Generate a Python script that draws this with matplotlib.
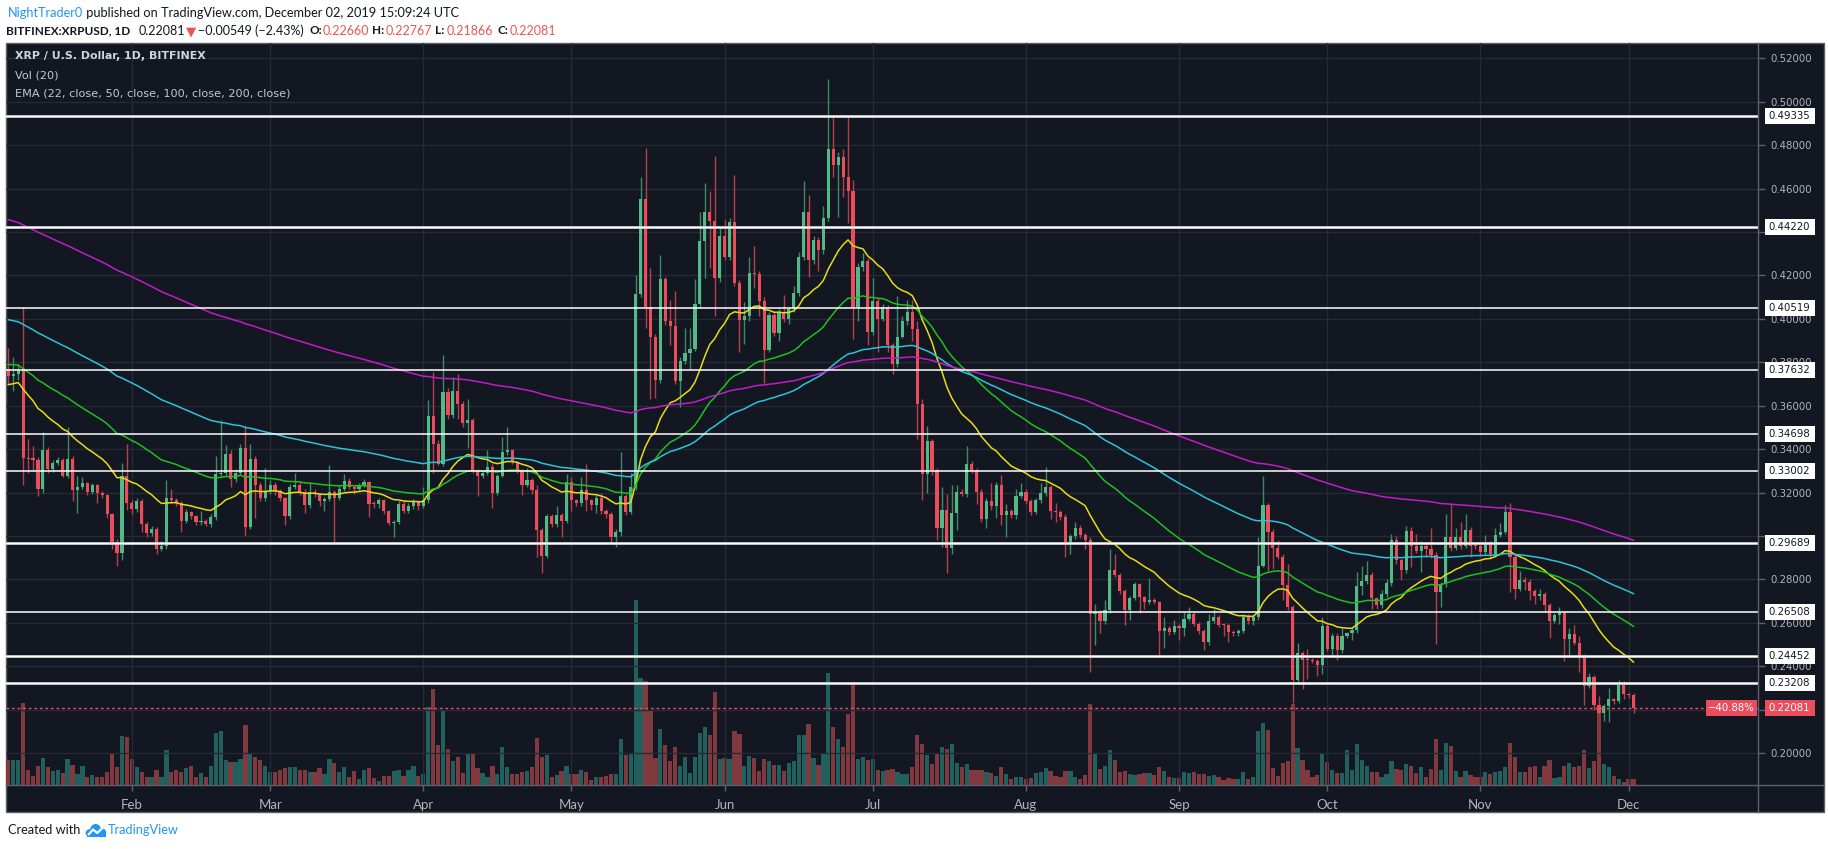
import datetime as dt
import numpy as np
import matplotlib
matplotlib.use("Agg")
import matplotlib.pyplot as plt
from matplotlib.patches import Rectangle, Ellipse
from matplotlib.lines import Line2D
from matplotlib.transforms import blended_transform_factory

# ---- values: BITFINEX XRP/USD, daily bars from 7 Jan 2019 ----
start_day = dt.date(2019, 1, 7)
first_open = 0.3768

closes = [
    0.3735, 0.3746, 0.3763, 0.3359, 0.3354, 0.3352, 0.3215, 0.3398, 0.3310, 0.3337,
    0.3348, 0.3277, 0.3356, 0.3211, 0.3226, 0.3242, 0.3204, 0.3233, 0.3197, 0.3188,
    0.3100, 0.2972, 0.2923, 0.3277, 0.3153, 0.3122, 0.3160, 0.3056, 0.3012, 0.3034,
    0.2939, 0.2954, 0.3175, 0.3166, 0.3153, 0.3071, 0.3109, 0.3091, 0.3065, 0.3071,
    0.3056, 0.3087, 0.3286, 0.3292, 0.3379, 0.3264, 0.3292, 0.3407, 0.3043, 0.3356,
    0.3237, 0.3175, 0.3206, 0.3237, 0.3206, 0.3175, 0.3091, 0.3226, 0.3237, 0.3204,
    0.3144, 0.3204, 0.3193, 0.3160, 0.3171, 0.3204, 0.3175, 0.3215, 0.3255, 0.3226,
    0.3215, 0.3233, 0.3248, 0.3149, 0.3147, 0.3164, 0.3115, 0.3060, 0.3065, 0.3149,
    0.3115, 0.3137, 0.3160, 0.3137, 0.3166, 0.3553, 0.3425, 0.3330, 0.3664, 0.3557,
    0.3668, 0.3609, 0.3518, 0.3535, 0.3303, 0.3277, 0.3292, 0.3319, 0.3197, 0.3277,
    0.3387, 0.3396, 0.3341, 0.3303, 0.3237, 0.3259, 0.3211, 0.3027, 0.2910, 0.3093,
    0.3056, 0.3098, 0.3071, 0.3248, 0.3166, 0.3153, 0.3211, 0.3166, 0.3142, 0.3175,
    0.3115, 0.3100, 0.2994, 0.3016, 0.3186, 0.3109, 0.3226, 0.4115, 0.4552, 0.4055,
    0.3918, 0.3719, 0.4183, 0.3989, 0.3967, 0.3712, 0.3805, 0.3841, 0.3863, 0.4069,
    0.4360, 0.4493, 0.4449, 0.4188, 0.4380, 0.4287, 0.4446, 0.4165, 0.3993, 0.4011,
    0.4210, 0.4205, 0.4084, 0.3856, 0.4017, 0.3933, 0.4033, 0.3999, 0.4044, 0.4121,
    0.4287, 0.4493, 0.4272, 0.4364, 0.4316, 0.4464, 0.4784, 0.4707, 0.4745, 0.4652,
    0.4590, 0.4055, 0.4238, 0.4265, 0.3940, 0.4081, 0.3999, 0.4055, 0.3878, 0.3794,
    0.3918, 0.3989, 0.4033, 0.3951, 0.3609, 0.3286, 0.3436, 0.3303, 0.3038, 0.3120,
    0.2943, 0.3104, 0.3204, 0.3193, 0.3330, 0.3303, 0.3204, 0.3076, 0.3160, 0.3137,
    0.3237, 0.3098, 0.3115, 0.3098, 0.3186, 0.3204, 0.3160, 0.3109, 0.3164, 0.3197,
    0.3226, 0.3115, 0.3111, 0.3089, 0.2972, 0.2999, 0.3038, 0.3005, 0.2983, 0.2640,
    0.2651, 0.2607, 0.2658, 0.2844, 0.2822, 0.2746, 0.2658, 0.2716, 0.2777, 0.2718,
    0.2696, 0.2707, 0.2694, 0.2563, 0.2578, 0.2558, 0.2585, 0.2574, 0.2618, 0.2640,
    0.2596, 0.2563, 0.2512, 0.2607, 0.2629, 0.2591, 0.2589, 0.2556, 0.2552, 0.2563,
    0.2629, 0.2607, 0.2625, 0.2861, 0.3144, 0.3020, 0.2943, 0.2905, 0.2773, 0.2673,
    0.2335, 0.2463, 0.2430, 0.2428, 0.2426, 0.2408, 0.2585, 0.2481, 0.2541, 0.2474,
    0.2541, 0.2552, 0.2567, 0.2769, 0.2791, 0.2822, 0.2714, 0.2681, 0.2734, 0.2784,
    0.2983, 0.2888, 0.2844, 0.3023, 0.2954, 0.2932, 0.2954, 0.2939, 0.2912, 0.2740,
    0.2777, 0.2994, 0.2945, 0.2994, 0.2954, 0.3027, 0.2954, 0.2952, 0.2925, 0.2965,
    0.2915, 0.3004, 0.3020, 0.3109, 0.2905, 0.2755, 0.2799, 0.2790, 0.2746, 0.2724,
    0.2733, 0.2684, 0.2607, 0.2636, 0.2645, 0.2525, 0.2547, 0.2507, 0.2446, 0.2308,
    0.2352, 0.2220, 0.2187, 0.2216, 0.2247, 0.2238, 0.2313, 0.2270, 0.2266, 0.22081,
]

highs = [
    0.3867, 0.3823, 0.3790, 0.4055, 0.3447, 0.3414, 0.3362, 0.3480, 0.3410, 0.3350,
    0.3365, 0.3360, 0.3502, 0.3370, 0.3277, 0.3270, 0.3250, 0.3245, 0.3240, 0.3205,
    0.3195, 0.3105, 0.2985, 0.3337, 0.3425, 0.3165, 0.3175, 0.3170, 0.3065, 0.3045,
    0.3040, 0.2975, 0.3259, 0.3215, 0.3175, 0.3160, 0.3125, 0.3115, 0.3095, 0.3116,
    0.3080, 0.3100, 0.3370, 0.3536, 0.3418, 0.3395, 0.3310, 0.3425, 0.3513, 0.3425,
    0.3370, 0.3250, 0.3315, 0.3260, 0.3250, 0.3215, 0.3180, 0.3240, 0.3292, 0.3250,
    0.3215, 0.3248, 0.3215, 0.3200, 0.3180, 0.3326, 0.3210, 0.3230, 0.3285, 0.3265,
    0.3235, 0.3245, 0.3264, 0.3255, 0.3160, 0.3175, 0.3170, 0.3120, 0.3075, 0.3160,
    0.3160, 0.3150, 0.3170, 0.3165, 0.3226, 0.3624, 0.3757, 0.3440, 0.3834, 0.3680,
    0.3734, 0.3746, 0.3620, 0.3631, 0.3545, 0.3310, 0.3300, 0.3396, 0.3330, 0.3285,
    0.3454, 0.3502, 0.3400, 0.3345, 0.3310, 0.3315, 0.3265, 0.3233, 0.3035, 0.3100,
    0.3100, 0.3138, 0.3105, 0.3286, 0.3270, 0.3170, 0.3270, 0.3330, 0.3170, 0.3190,
    0.3200, 0.3125, 0.3110, 0.3030, 0.3385, 0.3195, 0.3292, 0.4203, 0.4652, 0.4789,
    0.4232, 0.3930, 0.4294, 0.4195, 0.4088, 0.4128, 0.3825, 0.3956, 0.3956, 0.4183,
    0.4493, 0.4625, 0.4590, 0.4751, 0.4420, 0.4453, 0.4464, 0.4663, 0.4180, 0.4077,
    0.4283, 0.4336, 0.4220, 0.4100, 0.4030, 0.4033, 0.4045, 0.4110, 0.4055, 0.4150,
    0.4309, 0.4636, 0.4572, 0.4380, 0.4375, 0.4519, 0.5105, 0.4939, 0.4767, 0.4780,
    0.4939, 0.4641, 0.4255, 0.4303, 0.4280, 0.4188, 0.4095, 0.4070, 0.4066, 0.3890,
    0.4106, 0.4011, 0.4088, 0.4088, 0.3989, 0.3631, 0.3507, 0.3447, 0.3315, 0.3226,
    0.3193, 0.3237, 0.3233, 0.3215, 0.3414, 0.3345, 0.3315, 0.3215, 0.3175, 0.3242,
    0.3250, 0.3281, 0.3149, 0.3125, 0.3215, 0.3242, 0.3215, 0.3170, 0.3175, 0.3242,
    0.3319, 0.3235, 0.3153, 0.3120, 0.3100, 0.3010, 0.3065, 0.3050, 0.3015, 0.2995,
    0.2685, 0.2660, 0.2707, 0.2939, 0.2917, 0.2830, 0.2755, 0.2725, 0.2788, 0.2785,
    0.2725, 0.2806, 0.2715, 0.2700, 0.2629, 0.2585, 0.2614, 0.2595, 0.2651, 0.2673,
    0.2650, 0.2605, 0.2570, 0.2640, 0.2662, 0.2635, 0.2600, 0.2595, 0.2565, 0.2570,
    0.2640, 0.2640, 0.2635, 0.2994, 0.3277, 0.3150, 0.3030, 0.2983, 0.2915, 0.2872,
    0.2680, 0.2506, 0.2470, 0.2479, 0.2440, 0.2435, 0.2629, 0.2595, 0.2555, 0.2555,
    0.2574, 0.2560, 0.2580, 0.2835, 0.2861, 0.2884, 0.2835, 0.2720, 0.2751, 0.2800,
    0.3010, 0.3000, 0.2895, 0.3045, 0.3040, 0.3010, 0.2977, 0.2965, 0.3038, 0.2925,
    0.2790, 0.3100, 0.3153, 0.3038, 0.3065, 0.3100, 0.3040, 0.2965, 0.2965, 0.3005,
    0.2975, 0.3038, 0.3060, 0.3144, 0.3153, 0.2915, 0.2839, 0.2810, 0.2800, 0.2755,
    0.2755, 0.2740, 0.2690, 0.2645, 0.2673, 0.2655, 0.2578, 0.2592, 0.2541, 0.2455,
    0.2371, 0.2360, 0.2262, 0.2225, 0.2302, 0.2255, 0.2337, 0.2331, 0.2275, 0.22767,
]

lows = [
    0.3700, 0.3668, 0.3720, 0.3237, 0.3292, 0.3303, 0.3182, 0.3200, 0.3292, 0.3295,
    0.3325, 0.3270, 0.3265, 0.3160, 0.3104, 0.3215, 0.3190, 0.3195, 0.3150, 0.3175,
    0.3085, 0.2940, 0.2861, 0.2890, 0.3120, 0.3100, 0.3110, 0.3016, 0.2994, 0.3000,
    0.2917, 0.2930, 0.2940, 0.3150, 0.3140, 0.3016, 0.3060, 0.3080, 0.3050, 0.3049,
    0.3045, 0.3040, 0.3075, 0.3270, 0.3280, 0.3226, 0.3250, 0.3280, 0.2999, 0.3030,
    0.3082, 0.3160, 0.3160, 0.3195, 0.3190, 0.3160, 0.3049, 0.3080, 0.3215, 0.3190,
    0.3104, 0.3130, 0.3180, 0.3140, 0.3116, 0.3160, 0.2961, 0.3165, 0.3205, 0.3215,
    0.3195, 0.3205, 0.3225, 0.3087, 0.3130, 0.3130, 0.3100, 0.3049, 0.2994, 0.3055,
    0.3104, 0.3105, 0.3125, 0.3120, 0.3130, 0.3150, 0.3292, 0.3325, 0.3320, 0.3540,
    0.3545, 0.3540, 0.3500, 0.3403, 0.3290, 0.3186, 0.3265, 0.3280, 0.3127, 0.3190,
    0.3270, 0.3375, 0.3330, 0.3290, 0.3189, 0.3225, 0.3195, 0.2905, 0.2828, 0.2900,
    0.3040, 0.3040, 0.2994, 0.3060, 0.3116, 0.3140, 0.3140, 0.3116, 0.3120, 0.3104,
    0.3100, 0.3085, 0.2961, 0.2950, 0.3000, 0.3095, 0.3100, 0.3210, 0.4100, 0.3956,
    0.3630, 0.3635, 0.3706, 0.3970, 0.3878, 0.3701, 0.3595, 0.3790, 0.3768, 0.3850,
    0.4050, 0.4188, 0.4236, 0.4011, 0.4170, 0.4270, 0.4270, 0.4150, 0.3845, 0.3885,
    0.3990, 0.4143, 0.4011, 0.3706, 0.3845, 0.3922, 0.3900, 0.3985, 0.3978, 0.4030,
    0.4105, 0.4270, 0.4194, 0.4254, 0.4221, 0.4300, 0.4450, 0.4652, 0.4471, 0.4563,
    0.4442, 0.3905, 0.3989, 0.4220, 0.3878, 0.3925, 0.3845, 0.3989, 0.3845, 0.3746,
    0.3780, 0.3911, 0.3971, 0.3900, 0.3447, 0.3164, 0.3197, 0.3281, 0.2983, 0.2950,
    0.2828, 0.2917, 0.3027, 0.3182, 0.3180, 0.3290, 0.3149, 0.3065, 0.3038, 0.3120,
    0.3082, 0.3049, 0.2994, 0.3085, 0.3080, 0.3175, 0.3145, 0.3095, 0.3100, 0.3150,
    0.3185, 0.3076, 0.3065, 0.3075, 0.2905, 0.2917, 0.2985, 0.2990, 0.2939, 0.2375,
    0.2497, 0.2552, 0.2595, 0.2645, 0.2810, 0.2735, 0.2592, 0.2614, 0.2705, 0.2647,
    0.2662, 0.2685, 0.2685, 0.2452, 0.2486, 0.2545, 0.2550, 0.2519, 0.2541, 0.2610,
    0.2585, 0.2550, 0.2475, 0.2500, 0.2600, 0.2580, 0.2541, 0.2512, 0.2540, 0.2540,
    0.2555, 0.2595, 0.2590, 0.2615, 0.2855, 0.2839, 0.2850, 0.2895, 0.2707, 0.2660,
    0.2231, 0.2320, 0.2293, 0.2342, 0.2415, 0.2353, 0.2364, 0.2470, 0.2441, 0.2430,
    0.2460, 0.2530, 0.2519, 0.2555, 0.2729, 0.2780, 0.2662, 0.2665, 0.2670, 0.2720,
    0.2770, 0.2870, 0.2799, 0.2830, 0.2857, 0.2920, 0.2835, 0.2905, 0.2900, 0.2503,
    0.2673, 0.2765, 0.2930, 0.2935, 0.2940, 0.2945, 0.2901, 0.2940, 0.2910, 0.2915,
    0.2900, 0.2905, 0.2995, 0.3010, 0.2740, 0.2711, 0.2745, 0.2751, 0.2707, 0.2685,
    0.2707, 0.2651, 0.2530, 0.2601, 0.2596, 0.2424, 0.2441, 0.2497, 0.2375, 0.2220,
    0.2300, 0.2200, 0.2180, 0.2150, 0.2143, 0.2225, 0.2230, 0.2247, 0.2255, 0.21866,
]

# volume in relative units (bar heights)
volume = [
    52, 52, 52, 170, 32, 19, 40, 56, 37, 30,
    32, 24, 54, 41, 22, 39, 17, 20, 17, 17,
    27, 64, 37, 102, 99, 54, 37, 27, 17, 17,
    32, 17, 72, 27, 32, 27, 35, 40, 17, 25,
    17, 40, 109, 112, 52, 47, 47, 54, 125, 64,
    59, 52, 39, 27, 27, 32, 35, 37, 37, 32,
    32, 27, 27, 35, 22, 54, 45, 27, 37, 17,
    29, 12, 32, 35, 14, 9, 19, 19, 29, 32,
    19, 32, 39, 19, 22, 162, 200, 84, 157, 75,
    49, 59, 25, 67, 65, 35, 25, 17, 39, 22,
    80, 37, 22, 22, 27, 29, 37, 97, 59, 62,
    17, 20, 29, 40, 22, 22, 32, 27, 10, 17,
    17, 18, 22, 22, 95, 62, 64, 385, 224, 217,
    157, 57, 117, 84, 49, 79, 39, 59, 25, 59,
    109, 120, 104, 194, 55, 57, 55, 112, 107, 39,
    60, 57, 29, 55, 49, 42, 42, 29, 45, 50,
    105, 105, 127, 57, 42, 65, 234, 120, 95, 80,
    147, 210, 55, 59, 52, 55, 32, 30, 32, 34,
    27, 23, 23, 37, 104, 85, 62, 44, 65, 80,
    75, 85, 45, 37, 44, 32, 32, 32, 27, 24,
    19, 37, 22, 12, 17, 17, 12, 14, 25, 27,
    35, 30, 19, 17, 30, 29, 17, 12, 20, 169,
    67, 34, 40, 72, 52, 27, 29, 22, 20, 22,
    25, 25, 20, 37, 30, 17, 15, 15, 27, 24,
    27, 22, 22, 19, 20, 17, 10, 14, 12, 12,
    27, 12, 17, 112, 129, 114, 35, 19, 45, 50,
    169, 77, 52, 32, 17, 20, 65, 47, 32, 25,
    25, 72, 32, 85, 52, 39, 27, 27, 17, 22,
    49, 34, 32, 44, 39, 25, 37, 17, 34, 95,
    32, 87, 82, 30, 17, 30, 20, 17, 17, 27,
    22, 27, 30, 37, 87, 59, 27, 27, 37, 39,
    17, 39, 52, 14, 17, 40, 45, 37, 39, 72,
    35, 49, 167, 44, 37, 19, 12, 7, 12, 12,
]

levels = [0.49335, 0.44220, 0.40519, 0.37632, 0.34698,
          0.33002, 0.29689, 0.26508, 0.24452, 0.23208]
thick_levels = [0.49335, 0.44220, 0.29689, 0.24452, 0.23208]

ema_lengths = [22, 50, 100, 200]
ema_first = [0.3697, 0.3790, 0.3996, 0.4457]   # EMA values on the first visible bar
ema_colors = ["#e6dc14", "#1fbf1f", "#2cc3d8", "#c21bc8"]

price_ticks = [0.20, 0.22, 0.24, 0.26, 0.28, 0.30, 0.32, 0.34, 0.36,
               0.38, 0.40, 0.42, 0.44, 0.46, 0.48, 0.50, 0.52]
hidden_ticks = [0.22, 0.30, 0.44]   # labels covered by the level tags
month_names = ["Feb", "Mar", "Apr", "May", "Jun", "Jul", "Aug",
               "Sep", "Oct", "Nov", "Dec"]
last_price = 0.22081
pct_text = "\u221240.88%"

# ---- style ----
W, H = 1828, 849
BG = "#131722"
GRID = "#262a35"
FRAME = "#5d606b"
UP, DN = "#53b987", "#eb4d5c"
UP_WICK, DN_WICK = "#3f8a66", "#b2414e"
VOL_UP, VOL_DN = "#22605d", "#80393f"
AXTXT = "#b2b5be"
HEAD_FONT = ["Lato", "DejaVu Sans"]


def fx(px):
    return px / W


def fy(py):
    return 1 - py / H


def ema(values, length, first):
    a = 2.0 / (length + 1)
    out = [first]
    for v in values[1:]:
        out.append(out[-1] + a * (v - out[-1]))
    return out


n = len(closes)
x = np.arange(n)
opens = [first_open] + closes[:-1]
is_up = [c >= o for o, c in zip(opens, closes)]

fig = plt.figure(figsize=(W / 100, H / 100), dpi=100)
fig.patch.set_facecolor("white")

# dark chart panel (plot area + price scale + time scale)
fig.add_artist(Rectangle((fx(6), fy(812)), fx(1824) - fx(6), (812 - 43) / H,
                         transform=fig.transFigure, facecolor=BG,
                         edgecolor=FRAME, lw=1, zorder=0))

ax = fig.add_axes([fx(6), fy(785), (1758 - 6) / W, (785 - 43) / H])
axv = ax.twinx()
ax.set_zorder(2)
axv.set_zorder(1)
ax.patch.set_visible(False)
axv.patch.set_visible(False)

x_left, x_right = -0.47, 354.2
y_bottom, y_top = 0.18531, 0.52704
ax.set_xlim(x_left, x_right)
ax.set_ylim(y_bottom, y_top)

# volume overlay: tallest bar fills about a quarter of the pane
axv.bar(x, volume, width=0.86, color=[VOL_UP if u else VOL_DN for u in is_up],
        linewidth=0)
axv.set_ylim(0, max(volume) / 0.249)
axv.yaxis.set_visible(False)
for s in axv.spines.values():
    s.set_visible(False)

# grid and scales
ax.set_yticks(price_ticks)
ax.set_yticklabels(["" if t in hidden_ticks else f"{t:.5f}" for t in price_ticks])
month_idx = [(dt.date(2019, m, 1) - start_day).days for m in range(2, 13)]
ax.set_xticks(month_idx)
ax.set_xticklabels(month_names)
ax.grid(True, color=GRID, lw=1)
ax.set_axisbelow(True)
ax.yaxis.tick_right()
ax.tick_params(axis="y", length=5, width=1, color=FRAME, labelcolor=AXTXT,
               labelsize=7.3, pad=4)
ax.tick_params(axis="x", length=4, width=1, color=FRAME, labelcolor=AXTXT,
               labelsize=9.5, pad=6)
for lab in ax.get_xticklabels():
    lab.set_fontfamily(HEAD_FONT)
for s in ax.spines.values():
    s.set_visible(False)

# candles
ax.vlines(x, lows, highs, colors=[UP_WICK if u else DN_WICK for u in is_up],
          lw=1, zorder=3)
body_lo = np.minimum(opens, closes)
body_h = np.maximum(np.abs(np.array(closes) - np.array(opens)), 0.0005)
ax.bar(x, body_h, bottom=body_lo, width=0.64,
       color=[UP if u else DN for u in is_up], linewidth=0, zorder=3.5)

# EMAs
for length, first, col in zip(ema_lengths, ema_first, ema_colors):
    ax.plot(x, ema(closes, length, first), color=col, lw=1.1, zorder=4)

# horizontal levels
for lv in levels:
    if lv in thick_levels:
        ax.axhline(lv, color="#c9cacd", lw=2.0, zorder=5)
        ax.axhline(lv, color="white", lw=0.9, zorder=5.1)
    else:
        ax.axhline(lv, color="white", lw=1.1, zorder=5)
ax.axhline(last_price, color=DN, lw=1, ls=(0, (2, 2)), zorder=5)

# legend lines in the upper left
fig.text(fx(15), fy(56), "XRP / U.S. Dollar, 1D, BITFINEX", color="#d1d4dc",
         fontsize=7.9, fontweight="bold", va="center", zorder=6)
fig.text(fx(15), fy(75), "Vol (20)", color="#c4c7cf", fontsize=8.1, va="center", zorder=6)
fig.text(fx(15), fy(93.5), "EMA (22, close, 50, close, 100, close, 200, close)",
         color="#c4c7cf", fontsize=8.1, va="center", zorder=6)

# price-scale tags for the levels and the last price
blend = blended_transform_factory(fig.transFigure, ax.transData)
px_per_price = (785 - 43) / (y_top - y_bottom)
box_h = 16 / px_per_price
for lv in levels:
    fig.add_artist(Rectangle((fx(1765), lv - box_h / 2), fx(1815) - fx(1765), box_h,
                             transform=blend, facecolor="white", edgecolor="none",
                             zorder=7))
    fig.text(fx(1768), lv, f"{lv:.5f}", transform=blend, color="#131722",
             fontsize=7.3, ha="left", va="center", zorder=8)
fig.add_artist(Rectangle((fx(1765), last_price - box_h / 2), fx(1815) - fx(1765), box_h,
                         transform=blend, facecolor=DN, edgecolor="none", zorder=7))
fig.text(fx(1768), last_price, f"{last_price:.5f}", transform=blend, color="white",
         fontsize=7.3, ha="left", va="center", zorder=8)
fig.add_artist(Rectangle((fx(1706), last_price - box_h / 2), fx(1757) - fx(1706), box_h,
                         transform=blend, facecolor=DN, edgecolor="none", zorder=7))
fig.text(fx(1731.5), last_price, pct_text, transform=blend, color="white",
         fontsize=7.3, ha="center", va="center", zorder=8)

# separators between plot area and scales
fig.add_artist(Line2D([fx(1758), fx(1758)], [fy(43), fy(812)], transform=fig.transFigure,
                      color=FRAME, lw=1, zorder=9))
fig.add_artist(Line2D([fx(6), fx(1824)], [fy(785), fy(785)], transform=fig.transFigure,
                      color=FRAME, lw=1, zorder=9))

# header and footer text
renderer = fig.canvas.get_renderer()
BLUE = "#2196f3"
RED = "#ef5350"
BLK = "#131722"


def text_run(x_px, y_px, parts, size):
    xp = x_px
    for s, col, weight in parts:
        t = fig.text(fx(xp), fy(y_px), s, color=col, fontsize=size, fontweight=weight,
                     family=HEAD_FONT, va="center", ha="left")
        xp += t.get_window_extent(renderer=renderer).width
    return xp


text_run(8, 13, [("NightTrader0", BLUE, "normal"),
                 (" published on TradingView.com, December 02, 2019 15:09:24 UTC", BLK, "normal")],
         9.2)

# second header line: pieces placed where they sit in the original
line2 = [(6, "BITFINEX:XRPUSD, 1D", BLK, "bold", 8.5),
         (138.5, "0.22081", BLK, "normal", 9.0),
         (185.5, "\u25bc", RED, "normal", 9.5),
         (198, "\u22120.00549 (\u22122.43%)", BLK, "normal", 9.0),
         (309, "O:", BLK, "bold", 8.5), (323, "0.22660", RED, "normal", 9.0),
         (372, "H:", BLK, "bold", 8.5), (386, "0.22767", RED, "normal", 9.0),
         (435, "L:", BLK, "bold", 8.5), (447, "0.21866", RED, "normal", 9.0),
         (497, "C:", BLK, "bold", 8.5), (510, "0.22081", RED, "normal", 9.0)]
for xp, s, col, weight, size in line2:
    fig.text(fx(xp), fy(31), s, color=col, fontsize=size,
             fontweight=weight, family=HEAD_FONT, va="center", ha="left")

end = text_run(8, 830, [("Created with ", BLK, "normal")], 9.2)

# small TradingView logo
lax = fig.add_axes([fx(end + 1), fy(839), 22 / W, 17 / H])
lax.set_xlim(0, 22)
lax.set_ylim(0, 17)
lax.axis("off")
for cx, cy, w, h in [(6, 6, 10, 8), (11, 9, 11, 12), (16.5, 6.5, 10, 9)]:
    lax.add_patch(Ellipse((cx, cy), w, h, color=BLUE, lw=0))
lax.add_patch(Rectangle((2, 2), 19, 5, color=BLUE, lw=0))
lax.plot([4, 8.5, 12.5, 18], [4.5, 9.5, 6, 11], color="white", lw=1.6,
         solid_capstyle="round")
text_run(end + 24, 830, [("TradingView", BLUE, "normal")], 9.2)

fig.savefig("out.png", dpi=100, facecolor="white")
